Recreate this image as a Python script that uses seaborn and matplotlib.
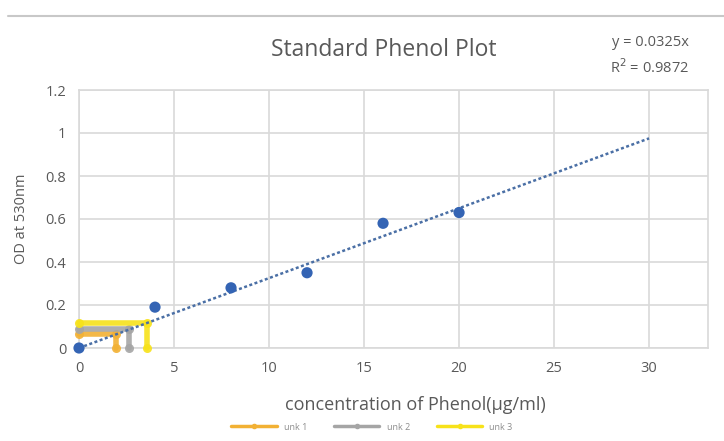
import numpy as np
import pandas as pd
import seaborn as sns
import matplotlib.pyplot as plt
from matplotlib.lines import Line2D

# standard curve data
conc = [0, 4, 8, 12, 16, 20]
od = [0.0, 0.19, 0.28, 0.35, 0.58, 0.63]

# fitted trendline (through origin)
slope = 0.0325
r2 = 0.9872
trend_x = [0, 30]

# unknown samples (conc, OD)
unk_names = ["unk 1", "unk 2", "unk 3"]
unk_x = [1.95, 2.65, 3.6]
unk_y = [0.065, 0.088, 0.118]
unk_colors = ["#F2B134", "#A5A5A5", "#F7E21A"]

sns.set_theme(style="white")
plt.rcParams['font.family'] = ['Open Sans', 'DejaVu Sans']

fig = plt.figure(figsize=(7.24, 4.41), dpi=100)
ax = fig.add_axes([79/724, 1-348/441, (708-79)/724, (348-90)/441])

# unknowns: horizontal from y-axis to curve, then down to x-axis
for name, x, y, c in zip(unk_names, unk_x, unk_y, unk_colors):
    path = pd.DataFrame({"x": [0, x, x], "y": [y, y, 0]})
    sns.lineplot(data=path, x="x", y="y", sort=False, estimator=None, ax=ax,
                 color=c, lw=4, marker="o", markersize=6.5, markeredgewidth=0,
                 alpha=0.9, zorder=3, clip_on=False)

# trendline
tx = np.array(trend_x, dtype=float)
ax.plot(tx, slope * tx, ls=(0, (1.2, 1.0)), color="#4A6FA5", lw=1.8, zorder=4)

df = pd.DataFrame({"conc": conc, "od": od})
sns.scatterplot(data=df, x="conc", y="od", ax=ax, s=65, color="#3464B4",
                edgecolor="none", zorder=5, clip_on=False)

ax.set_xlim(0, 33.1)
ax.set_ylim(0, 1.2)
ax.set_xticks([0, 5, 10, 15, 20, 25, 30])
ax.set_xticklabels(["0", "5", "10", "15", "20", "25", "30"])
ax.set_yticks([0, 0.2, 0.4, 0.6, 0.8, 1.0, 1.2])
ax.set_yticklabels(["0", "0.2", "0.4", "0.6", "0.8", "1", "1.2"])
ax.grid(True, color="#D9D9D9", lw=1.2)
ax.set_axisbelow(True)
for s in ax.spines.values():
    s.set_color("#D9D9D9")
    s.set_linewidth(1.2)
ax.tick_params(axis="both", colors="#595959", labelsize=10.5, length=0, pad=9)

ax.set_xlabel("concentration of Phenol(µg/ml)", fontsize=13, color="#595959")
ax.xaxis.set_label_coords(0.534, -0.221)
ax.xaxis.label.set_va("center")
ax.set_ylabel("OD at 530nm", fontsize=10.5, color="#595959", labelpad=12)

fig.text(384/724, 1-50/441, "Standard Phenol Plot", ha="center", va="center",
         fontsize=16.5, color="#595959")
fig.text(650/724, 1-43/441, "y = 0.0325x", ha="center", va="center",
         fontsize=10.5, color="#595959")
fig.text(650/724, 1-68/441, "R$^2$ = 0.9872", ha="center", va="center",
         fontsize=10.5, color="#595959")

# thin line at top of the chart
fig.add_artist(Line2D([8/724, 1], [1-16/441, 1-16/441], color="#C8C8C8", lw=1.5))

handles = [Line2D([0], [0], color=c, lw=2.5, marker="o", markersize=3) for c in unk_colors]
fig.legend(handles, unk_names, loc="center", bbox_to_anchor=(372/724, 1-427/441),
           ncol=3, frameon=False, fontsize=6.5, handlelength=5, columnspacing=3,
           labelcolor="#8C8C8C")

fig.savefig("out.png", dpi=100)
